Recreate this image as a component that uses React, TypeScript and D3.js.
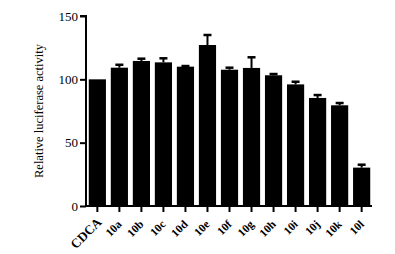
import { useEffect, useRef } from 'react';
import * as d3 from 'd3';

const categories = ['CDCA', '10a', '10b', '10c', '10d', '10e', '10f', '10g', '10h', '10i', '10j', '10k', '10l'];
const means = [100, 109.2, 114.5, 113.4, 110, 127.1, 107.6, 109, 103.2, 96, 85.3, 79.5, 30.3];
const errors = [0, 2.3, 1.8, 3.2, 0.5, 7.9, 1.6, 8.4, 1.0, 2.1, 2.3, 1.8, 2.3];
const yTicks = [0, 50, 100, 150];

export default function App() {
  const svgRef = useRef<SVGSVGElement>(null);

  useEffect(() => {
    if (!svgRef.current) return;
    const svg = d3.select(svgRef.current);
    svg.selectAll('*').remove();

    const x0 = 86;
    const x1 = 372;
    const yBase = 206;
    const yTop = 16;

    const x = d3.scaleBand<string>()
      .domain(categories)
      .range([x0 + 1, x1])
      .paddingInner(0.22)
      .paddingOuter(0.08);

    const y = d3.scaleLinear().domain([0, 150]).range([yBase, yTop]);

    const font = '"Liberation Serif", "Times New Roman", serif';

    // Bars
    svg.append('g')
      .selectAll('rect')
      .data(categories)
      .join('rect')
      .attr('x', (d) => x(d)!)
      .attr('y', (d, i) => y(means[i]))
      .attr('width', x.bandwidth())
      .attr('height', (d, i) => yBase - y(means[i]))
      .attr('fill', '#000');

    // Error bars (upper only)
    const eb = svg.append('g');
    categories.forEach((c, i) => {
      if (!errors[i]) return;
      const cx = x(c)! + x.bandwidth() / 2;
      eb.append('line')
        .attr('x1', cx).attr('x2', cx)
        .attr('y1', y(means[i])).attr('y2', y(means[i] + errors[i]))
        .attr('stroke', '#000').attr('stroke-width', 2);
      eb.append('line')
        .attr('x1', cx - 4).attr('x2', cx + 4)
        .attr('y1', y(means[i] + errors[i])).attr('y2', y(means[i] + errors[i]))
        .attr('stroke', '#000').attr('stroke-width', 2.5);
    });

    // Y axis
    const yAxis = svg.append('g')
      .attr('transform', `translate(${x0},0)`)
      .call(d3.axisLeft(y).tickValues(yTicks).tickSize(6).tickPadding(2).tickFormat(d3.format('d')));
    yAxis.select('.domain').attr('stroke-width', 2).attr('d', `M-6,${yTop}H0V${yBase}`);
    yAxis.selectAll('.tick line').attr('stroke-width', 2);
    yAxis.selectAll('text')
      .attr('font-family', font)
      .attr('font-size', 13)
      .attr('fill', '#000');

    // X axis (ticks only, labels drawn separately)
    const xAxis = svg.append('g')
      .attr('transform', `translate(0,${yBase})`)
      .call(d3.axisBottom(x).tickSize(5).tickSizeOuter(0).tickFormat(() => ''));
    xAxis.select('.domain').attr('stroke-width', 2).attr('d', `M${x0 - 1},0H${x1}`);
    xAxis.selectAll('.tick line').attr('stroke-width', 2).attr('y1', 1).attr('y2', 6);

    // Rotated category labels
    svg.append('g')
      .selectAll('text')
      .data(categories)
      .join('text')
      .attr('transform', (d) => {
        const cx = x(d)! + x.bandwidth() / 2;
        const dx = d === 'CDCA' ? 5 : 3;
        const dy = d === 'CDCA' ? 17 : 19;
        return `translate(${cx + dx},${yBase + dy}) rotate(-45)`;
      })
      .attr('text-anchor', 'end')
      .attr('font-family', font)
      .attr('font-size', (d) => (d === 'CDCA' ? 13 : 11.5))
      .attr('font-weight', 'bold')
      .attr('fill', '#000')
      .text((d) => d);

    // Y label
    svg.append('text')
      .attr('transform', `translate(43,111) rotate(-90)`)
      .attr('text-anchor', 'middle')
      .attr('font-family', font)
      .attr('font-size', 12.5)
      .attr('fill', '#000')
      .text('Relative luciferase activity');
  }, []);

  return (
    <svg
      ref={svgRef}
      width={395}
      height={254}
      style={{ position: 'absolute', left: 0, top: 0, background: '#fff' }}
    />
  );
}
